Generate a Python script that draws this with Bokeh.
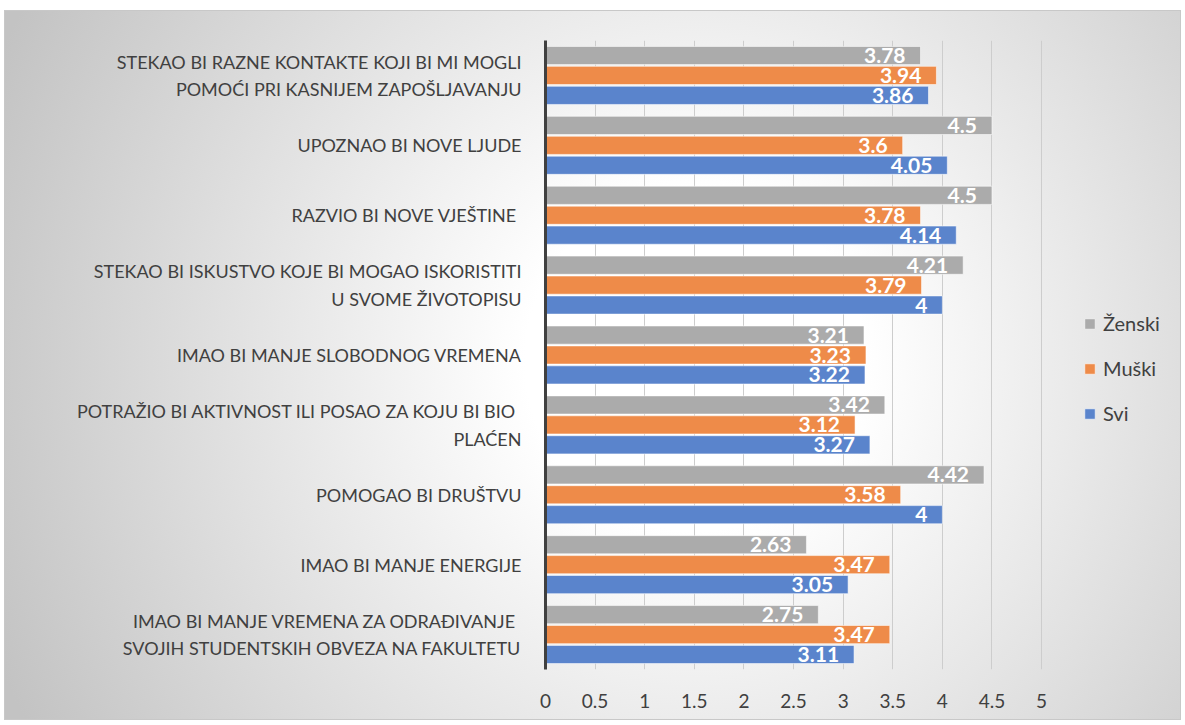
from bokeh.plotting import figure
from bokeh.models import (ColumnDataSource, FactorRange, Legend, LegendItem,
                          FixedTicker, Range1d, NumeralTickFormatter)
from bokeh.transform import dodge
from bokeh.core.properties import value
from bokeh.embed import file_html
from bokeh.resources import INLINE

# ---------------- data ----------------
categories = [
    "STEKAO BI RAZNE KONTAKTE KOJI BI MI MOGLI\nPOMOĆI PRI KASNIJEM ZAPOŠLJAVANJU",
    "UPOZNAO BI NOVE LJUDE",
    "RAZVIO BI NOVE VJEŠTINE ",
    "STEKAO BI ISKUSTVO KOJE BI MOGAO ISKORISTITI\nU SVOME ŽIVOTOPISU",
    "IMAO BI MANJE SLOBODNOG VREMENA",
    "POTRAŽIO BI AKTIVNOST ILI POSAO ZA KOJU BI BIO \nPLAĆEN",
    "POMOGAO BI DRUŠTVU",
    "IMAO BI MANJE ENERGIJE",
    "IMAO BI MANJE VREMENA ZA ODRAĐIVANJE \nSVOJIH STUDENTSKIH OBVEZA NA FAKULTETU",
]
zenski = [3.78, 4.5, 4.5, 4.21, 3.21, 3.42, 4.42, 2.63, 2.75]
muski = [3.94, 3.6, 3.78, 3.79, 3.23, 3.12, 3.58, 3.47, 3.47]
svi = [3.86, 4.05, 4.14, 4, 3.22, 3.27, 4, 3.05, 3.11]
series_names = ["Ženski", "Muški", "Svi"]
x_ticks = [0, 0.5, 1, 1.5, 2, 2.5, 3, 3.5, 4, 4.5, 5]

colors = ["#ABABAB", "#EE8B49", "#5A84CC"]
offsets = [0.285, 0.0, -0.285]

src = ColumnDataSource(dict(
    cat=categories,
    z=zenski, m=muski, s=svi,
    z_lbl=[f"{v:g}" for v in zenski],
    m_lbl=[f"{v:g}" for v in muski],
    s_lbl=[f"{v:g}" for v in svi],
))

FONT = "Lato"
TXT = "#404040"

# frame extends to the right so the legend can sit inside it;
# the value axis keeps ~99 px per unit (0..5 over ~496 px)
p = figure(width=1177, height=710,
           y_range=FactorRange(factors=categories[::-1]),
           x_range=Range1d(0, 6.37),
           output_backend="svg", toolbar_location=None,
           min_border_left=540, min_border_right=5,
           min_border_top=29, min_border_bottom=52)

p.background_fill_color = None
p.border_fill_color = None
p.outline_line_color = None
p.styles = {
    "background": "radial-gradient(circle at 690px 350px, #ffffff 0px, #ffffff 170px, #c3c3c3 760px)",
    "border": "1px solid #c8c8c8",
    "margin-left": "4px",
    "margin-top": "10px",
}

cols = ["z", "m", "s"]
renderers = []
for col, off, c in zip(cols, offsets, colors):
    r = p.hbar(y=dodge("cat", off, range=p.y_range), left=0, right=col,
               height=0.26, source=src, fill_color=c,
               line_color="white", line_alpha=0.55, line_width=1)
    renderers.append(r)
    p.text(x=col, y=dodge("cat", off, range=p.y_range), text=col + "_lbl",
           source=src, text_align="right", text_baseline="middle",
           x_offset=-15, text_color="white", text_font=value(FONT),
           text_font_style="bold", text_font_size="21px")

# axes
p.yaxis.axis_line_width = 3
p.yaxis.axis_line_color = TXT
p.yaxis.major_tick_line_color = None
p.yaxis.minor_tick_line_color = None
p.yaxis.major_label_text_font = FONT
p.yaxis.major_label_text_font_size = "18px"
p.yaxis.major_label_text_color = TXT
p.yaxis.major_label_standoff = 18
p.yaxis.major_label_text_line_height = 1.25
p.yaxis.major_label_text_align = "center"

p.xaxis.ticker = FixedTicker(ticks=x_ticks)
p.xaxis.formatter = NumeralTickFormatter(format="0.[0]")
p.xaxis.axis_line_color = None
p.xaxis.major_tick_line_color = None
p.xaxis.minor_tick_line_color = None
p.xaxis.major_label_text_font = FONT
p.xaxis.major_label_text_font_size = "19px"
p.xaxis.major_label_text_color = TXT
p.xaxis.major_label_standoff = 18

p.xgrid.ticker = FixedTicker(ticks=x_ticks)
p.xgrid.grid_line_color = "#cdcdcd"
p.xgrid.grid_line_width = 1
p.ygrid.grid_line_color = None

legend = Legend(
    items=[LegendItem(label=n, renderers=[r]) for n, r in zip(series_names, renderers)],
    location=(538, 244), orientation="vertical",
    background_fill_alpha=0, border_line_color=None,
    glyph_width=13, glyph_height=13, label_height=20, spacing=21,
    label_standoff=7, padding=10, margin=0,
    label_text_font=FONT, label_text_font_size="20px", label_text_color=TXT,
)
p.add_layout(legend, "center")

open("out.html", "w").write(file_html(p, INLINE))
